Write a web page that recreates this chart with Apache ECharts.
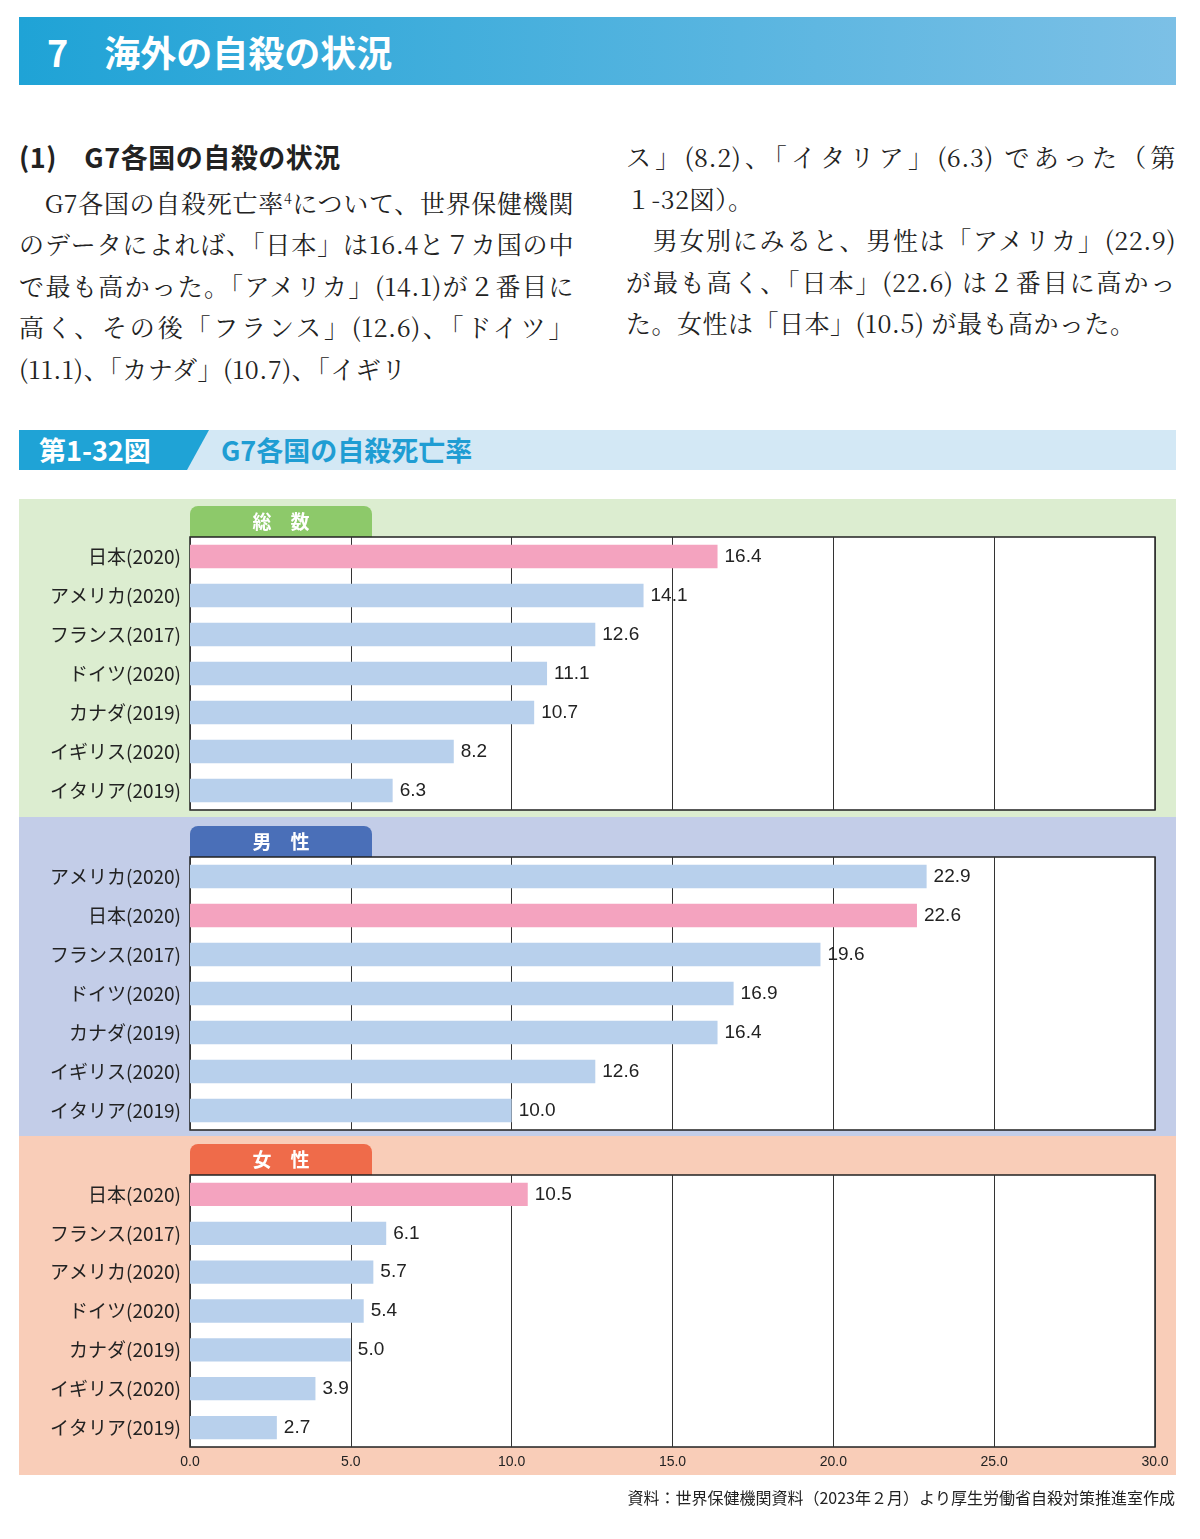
<html>
<head>
<meta charset="utf-8">
<title>G7各国の自殺死亡率</title>
<script src="https://cdn.jsdelivr.net/npm/echarts@6/dist/echarts.min.js"></script>
<style>
  html,body{margin:0;padding:0;width:1200px;height:1539px;background:#fff;
    font-family:"Noto Sans CJK JP","Noto Sans",sans-serif;color:#222;position:relative;overflow:hidden}
  #banner{position:absolute;left:19px;top:17px;width:1157px;height:68px;
    background:linear-gradient(90deg,#1fa3d6,#7cc0e6);color:#fff;font-weight:bold;font-size:36px;line-height:68px}
  #banner span{margin-left:28px}
  .col{position:absolute;top:136px;width:555px;font-family:"Noto Serif CJK JP","Noto Sans CJK JP",serif;
    font-size:25px;line-height:41.5px;letter-spacing:0.5px;text-align:justify}
  .col h3{margin:0;font-size:27px;font-weight:bold;font-family:"Noto Sans CJK JP",sans-serif;line-height:41.5px}
  #figbar{position:absolute;left:19px;top:430px;width:1157px;height:40px;background:#d3e8f5}
  #fignum{position:absolute;left:0;top:0;height:40px;width:190px;background:#1fa3d6;color:#fff;font-weight:bold;
    font-size:27px;line-height:40px;padding-left:20px;box-sizing:border-box;clip-path:polygon(0 0,190px 0,168px 40px,0 40px)}
  #figtitle{position:absolute;left:202px;top:0;line-height:40px;font-size:27px;font-weight:bold;color:#1f9dd3}
  #chart{position:absolute;left:0;top:490px;width:1200px;height:1049px}
</style>
</head>
<body>
<div id="banner"><span>7　海外の自殺の状況</span></div>
<div class="col" style="left:19px">
  <h3>(1)　G7各国の自殺の状況</h3>
  　G7各国の自殺死亡率<sup style="font-size:14px">4</sup>について、世界保健機関のデータによれば、「日本」は16.4と７カ国の中で最も高かった。「アメリカ」(14.1)が２番目に高く、その後「フランス」(12.6)、「ドイツ」(11.1)、「カナダ」(10.7)、「イギリ
</div>
<div class="col" style="left:626px;width:550px">
  ス」(8.2)、「イタリア」(6.3) であった（第１-32図）。<br>
  　男女別にみると、男性は「アメリカ」(22.9)が最も高く、「日本」(22.6) は２番目に高かった。女性は「日本」(10.5) が最も高かった。
</div>
<div id="figbar"><div id="fignum">第1-32図</div><div id="figtitle">G7各国の自殺死亡率</div></div>
<div id="chart"></div>
<script type="text/javascript">
// データ
var totalCountries = ['日本(2020)','アメリカ(2020)','フランス(2017)','ドイツ(2020)','カナダ(2019)','イギリス(2020)','イタリア(2019)'];
var totalValues    = [16.4, 14.1, 12.6, 11.1, 10.7, 8.2, 6.3];
var maleCountries  = ['アメリカ(2020)','日本(2020)','フランス(2017)','ドイツ(2020)','カナダ(2019)','イギリス(2020)','イタリア(2019)'];
var maleValues     = [22.9, 22.6, 19.6, 16.9, 16.4, 12.6, 10.0];
var femaleCountries= ['日本(2020)','フランス(2017)','アメリカ(2020)','ドイツ(2020)','カナダ(2019)','イギリス(2020)','イタリア(2019)'];
var femaleValues   = [10.5, 6.1, 5.7, 5.4, 5.0, 3.9, 2.7];
var panelTitles    = ['総　数','男　性','女　性'];

var myChart = echarts.init(document.getElementById('chart'));
var PINK = '#f4a3bf', BLUE = '#b8d0ec';
var panels = [
  {cats: totalCountries, vals: totalValues, top: 47, h: 273, bg: '#dcedd0', bgTop: 9, bgH: 318, tab: '#8dc96a'},
  {cats: maleCountries, vals: maleValues, top: 367, h: 273, bg: '#c3cde8', bgTop: 327, bgH: 319, tab: '#4a6fb8'},
  {cats: femaleCountries, vals: femaleValues, top: 685, h: 272, bg: '#f9cdb8', bgTop: 646, bgH: 339, tab: '#ef6b4a'}
];

var grids = [], xAxes = [], yAxes = [], series = [], graphics = [];
panels.forEach(function (p, i) {
  graphics.push({type: 'rect', z: -10, shape: {x: 19, y: p.bgTop, width: 1157, height: p.bgH}, style: {fill: p.bg}});
  graphics.push({type: 'rect', z: -5, shape: {x: 190, y: p.top - 31, width: 182, height: 32, r: [8, 8, 0, 0]}, style: {fill: p.tab}});
  graphics.push({type: 'text', z: -4, x: 281, y: p.top - 15, style: {text: panelTitles[i], fill: '#fff', font: 'bold 19px "Noto Sans CJK JP"', align: 'center', verticalAlign: 'middle'}});
  grids.push({left: 190, right: 45, top: p.top, height: p.h, show: true, backgroundColor: '#fff', borderColor: '#222', borderWidth: 1.5});
  xAxes.push({
    type: 'value', gridIndex: i, min: 0, max: 30, interval: 5,
    axisLine: {show: false}, axisTick: {show: false},
    splitLine: {lineStyle: {color: '#333', width: 1}},
    axisLabel: {show: i === 2, color: '#222', fontSize: 14, margin: 8,
      formatter: function (v) { return v.toFixed(1); }}
  });
  yAxes.push({
    type: 'category', gridIndex: i, inverse: true, data: p.cats,
    axisLine: {show: false}, axisTick: {show: false},
    axisLabel: {color: '#222', fontSize: 19, margin: 9, fontFamily: 'Noto Sans CJK JP'}
  });
  series.push({
    type: 'bar', xAxisIndex: i, yAxisIndex: i, barCategoryGap: '40%',
    data: p.vals.map(function (v, k) {
      return {value: v, itemStyle: {color: p.cats[k] === '日本(2020)' ? PINK : BLUE}};
    }),
    label: {show: true, position: 'right', distance: 7, color: '#222', fontSize: 19,
      formatter: function (d) { return d.value.toFixed(1); }}
  });
});
graphics.push({type: 'text', x: 1175, y: 1008, style: {text: '資料：世界保健機関資料（2023年２月）より厚生労働省自殺対策推進室作成', fill: '#222', font: '16px "Noto Sans CJK JP"', align: 'right', verticalAlign: 'middle'}});

myChart.setOption({
  animation: false,
  grid: grids, xAxis: xAxes, yAxis: yAxes, series: series, graphic: graphics
});
</script>
</body>
</html>
